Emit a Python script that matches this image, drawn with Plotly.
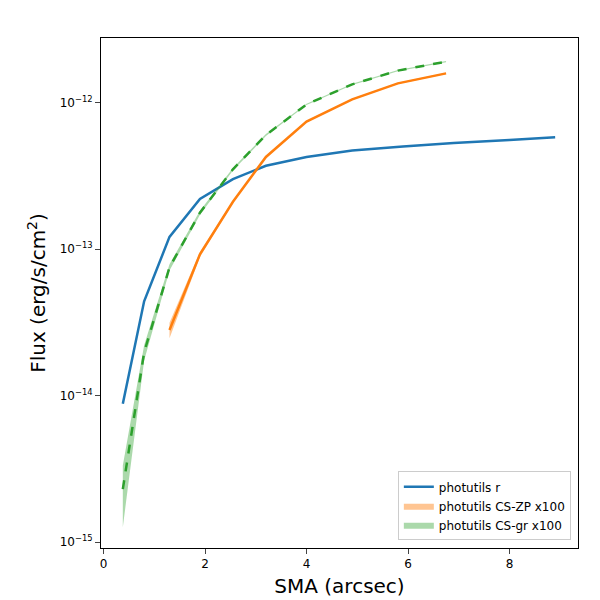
import plotly.graph_objects as go

sma_r = [0.38, 0.8, 1.3, 1.9, 2.55, 3.2, 4.0, 4.9, 5.9, 6.9, 8.0, 8.9]
flux_r = [0.88e-14, 4.4e-14, 1.21e-13, 2.2e-13, 3.0e-13, 3.7e-13, 4.25e-13, 4.7e-13, 5.0e-13, 5.3e-13, 5.55e-13, 5.8e-13]

sma_zp = [1.3, 1.9, 2.55, 3.2, 4.0, 4.9, 5.8, 6.75]
flux_zp = [2.8e-14, 9.2e-14, 2.1e-13, 4.25e-13, 7.4e-13, 1.05e-12, 1.35e-12, 1.58e-12]
err_zp = [0.12, 0.04, 0.02, 0.015, 0.01, 0.01, 0.01, 0.01]

sma_gr = [0.38, 0.8, 1.3, 1.9, 2.55, 3.2, 4.0, 4.9, 5.8, 6.75]
flux_gr = [2.3e-15, 1.97e-14, 7.5e-14, 1.77e-13, 3.5e-13, 6.0e-13, 9.7e-13, 1.33e-12, 1.65e-12, 1.9e-12]
err_gr = [0.45, 0.12, 0.05, 0.03, 0.02, 0.015, 0.01, 0.01, 0.01, 0.01]

def band(x, y, e, color, name, group):
    lo = [v * (1 - f) for v, f in zip(y, e)]
    hi = [v * (1 + f) for v, f in zip(y, e)]
    return go.Scatter(x=x + x[::-1], y=hi + lo[::-1], fill="toself", fillcolor=color,
                      line=dict(width=0), mode="lines", name=name, legendgroup=group,
                      hoverinfo="skip")

fig = go.Figure()
fig.add_trace(go.Scatter(x=sma_r, y=flux_r, mode="lines", line=dict(color="#1f77b4", width=2.5),
                         name="photutils r"))
fig.add_trace(band(sma_zp, flux_zp, err_zp, "rgba(255,127,14,0.45)", "photutils CS-ZP x100", "zp"))
fig.add_trace(go.Scatter(x=sma_zp, y=flux_zp, mode="lines", line=dict(color="#ff7f0e", width=2.5),
                         showlegend=False, legendgroup="zp"))
fig.add_trace(band(sma_gr, flux_gr, err_gr, "rgba(44,160,44,0.4)", "photutils CS-gr x100", "gr"))
fig.add_trace(go.Scatter(x=sma_gr, y=flux_gr, mode="lines", line=dict(color="#2ca02c", width=2.5, dash="dash"),
                         showlegend=False, legendgroup="gr"))

fig.update_layout(
    width=600, height=600, plot_bgcolor="white", paper_bgcolor="white",
    margin=dict(l=93, r=30, t=30, b=60, autoexpand=False),
    font=dict(family="DejaVu Sans", size=12, color="black"),
    legend=dict(x=0.985, y=0.015, xanchor="right", yanchor="bottom", tracegroupgap=0,
                bordercolor="#ccc", borderwidth=1, bgcolor="white", font=dict(size=12)),
)
fig.update_xaxes(range=[-0.05, 9.35], showgrid=False, showline=True, mirror=True, linecolor="black",
                 ticks="outside", tickvals=[0, 2, 4, 6, 8], zeroline=False, automargin=False,
                 title=dict(text="SMA (arcsec)", font=dict(size=20), standoff=8))
fig.update_yaxes(type="log", range=[-15.04, -11.56], showgrid=False, showline=True, mirror=True,
                 linecolor="black", ticks="outside", automargin=False,
                 tickvals=[1e-15, 1e-14, 1e-13, 1e-12],
                 ticktext=["10<sup>−15</sup>", "10<sup>−14</sup>", "10<sup>−13</sup>", "10<sup>−12</sup>"],
                 title=dict(text="Flux (erg/s/cm<sup>2</sup>)", font=dict(size=20), standoff=8))
fig.write_html("out.html")
